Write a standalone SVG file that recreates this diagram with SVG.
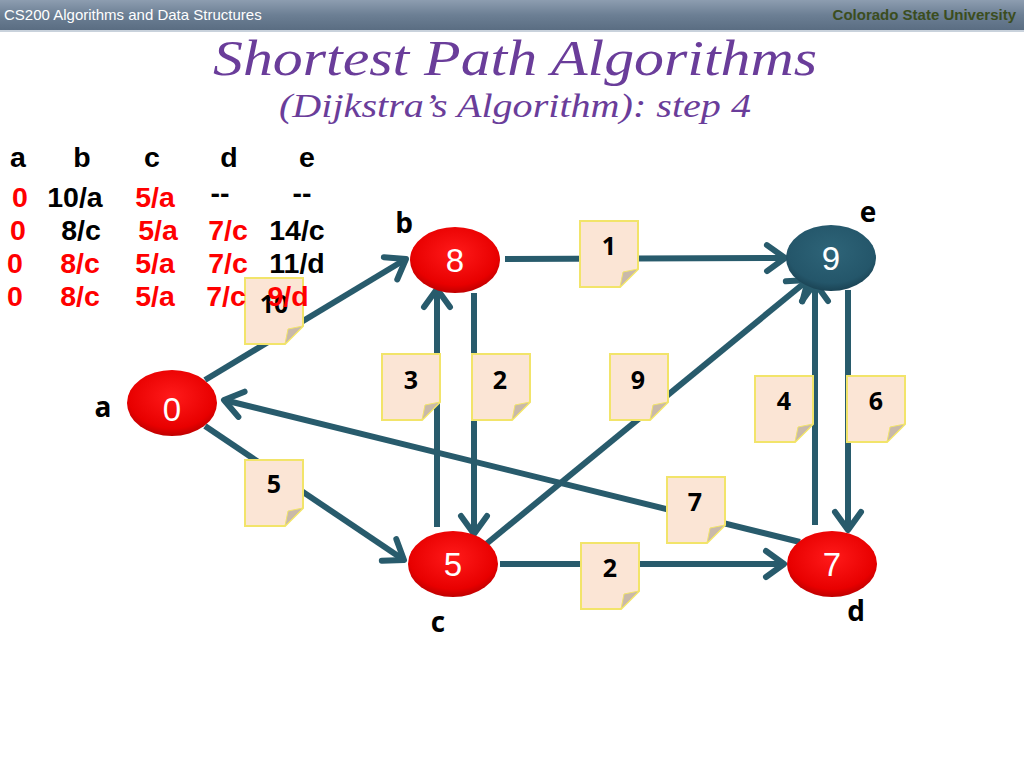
<svg xmlns="http://www.w3.org/2000/svg" xmlns:xlink="http://www.w3.org/1999/xlink" width="1024" height="768" viewBox="0 0 1024 768">
<defs>
<style>
.hdr{font-family:"Liberation Sans",Arial,sans-serif;font-size:15px}
.ttl{font-family:"Liberation Serif","Times New Roman",serif;font-style:italic;fill:#6a3d9a;text-anchor:middle}
.tb{font-family:"Liberation Sans",Arial,sans-serif;font-weight:bold;font-size:28.5px;text-anchor:middle}
.r{fill:#ff0000}.k{fill:#000}
.lbl{font-family:"Open Sans","Liberation Sans",sans-serif;font-weight:bold;font-size:28px;text-anchor:middle;fill:#000}
.nt{font-family:"Liberation Sans",Arial,sans-serif;font-size:33px;fill:#fff;text-anchor:middle}
.wt{font-family:"Open Sans","Liberation Sans",sans-serif;font-weight:bold;font-size:25px;text-anchor:middle;fill:#000}
.e{stroke:#285b6c;stroke-width:6;fill:none;marker-end:url(#ah)}
</style>
<linearGradient id="hg" x1="0" y1="0" x2="0" y2="1">
<stop offset="0" stop-color="#8d9db0"/><stop offset="0.5" stop-color="#6c7f94"/><stop offset="1" stop-color="#5a6d82"/>
</linearGradient>
<radialGradient id="rg" cx="0.5" cy="0.4" r="0.6">
<stop offset="0" stop-color="#ff1a1a"/><stop offset="0.8" stop-color="#e80000"/><stop offset="1" stop-color="#c00000"/>
</radialGradient>
<radialGradient id="tg" cx="0.5" cy="0.4" r="0.6">
<stop offset="0" stop-color="#2e6478"/><stop offset="0.8" stop-color="#24566a"/><stop offset="1" stop-color="#1b4455"/>
</radialGradient>
<marker id="ah" markerUnits="userSpaceOnUse" markerWidth="30" markerHeight="30" refX="22" refY="15" orient="auto" overflow="visible">
<path d="M4,2 L22,15 L4,28" fill="none" stroke="#285b6c" stroke-width="6" stroke-linecap="round" stroke-linejoin="round"/>
</marker>
<g id="note">
<path d="M0,0 H58 V48 L40,66 H0 Z" fill="#fbe5d5" stroke="#f2e46a" stroke-width="2"/>
<path d="M58,48 L40,66 L43,51 Z" fill="#c9b9a9" stroke="#f2e46a" stroke-width="1"/>
</g>
</defs>
<rect width="1024" height="768" fill="#fff"/>
<g id="header">
<rect x="0" y="0" width="1024" height="30" fill="url(#hg)"/>
<rect x="0" y="30" width="1024" height="2" fill="#c9d2dc"/>
<text class="hdr" x="4" y="20" fill="#fff">CS200 Algorithms and Data Structures</text>
<text class="hdr" x="1016" y="20" fill="#3b4d1e" font-weight="bold" text-anchor="end">Colorado State University</text>
</g>
<g id="title">
<text class="ttl" x="515" y="75" font-size="50" textLength="604" lengthAdjust="spacingAndGlyphs">Shortest Path Algorithms</text>
<text class="ttl" x="515" y="117" font-size="33" textLength="472" lengthAdjust="spacingAndGlyphs">(Dijkstra’s Algorithm): step 4</text>
</g>
<g id="connectors">
<line class="e" x1="205" y1="380" x2="406" y2="259"/>
<line class="e" x1="205" y1="426" x2="404" y2="560"/>
<line class="e" x1="505" y1="259" x2="785" y2="258"/>
<line class="e" x1="437" y1="527" x2="437" y2="289"/>
<line class="e" x1="474" y1="293" x2="474" y2="534"/>
<line class="e" x1="485" y1="545" x2="808" y2="280"/>
<line class="e" x1="800" y1="542" x2="224" y2="400"/>
<line class="e" x1="500" y1="564" x2="784" y2="564"/>
<line class="e" x1="815" y1="525" x2="815" y2="283"/>
<line class="e" x1="848" y1="290" x2="848" y2="530"/>
</g>
<g id="node-a"><ellipse cx="172" cy="403" rx="45" ry="33" fill="url(#rg)"/><text class="nt" x="172" y="421" font-size="48">0</text></g>
<g id="node-b"><ellipse cx="455" cy="260" rx="45" ry="33" fill="url(#rg)"/><text class="nt" x="455" y="272">8</text></g>
<g id="node-e"><ellipse cx="831" cy="258" rx="45" ry="33" fill="url(#tg)"/><text class="nt" x="831" y="270">9</text></g>
<g id="node-c"><ellipse cx="453" cy="564" rx="45" ry="33" fill="url(#rg)"/><text class="nt" x="453" y="576">5</text></g>
<g id="node-d"><ellipse cx="832" cy="564" rx="45" ry="33" fill="url(#rg)"/><text class="nt" x="832" y="576">7</text></g>
<g id="labels">
<text class="lbl" x="103" y="417">a</text>
<text class="lbl" x="404" y="233">b</text>
<text class="lbl" x="868" y="222">e</text>
<text class="lbl" x="438" y="632">c</text>
<text class="lbl" x="856" y="621">d</text>
</g>
<g id="weights">
<use xlink:href="#note" x="245" y="278"/>
<text class="wt" x="274" y="313">10</text>
<use xlink:href="#note" x="580" y="221"/><text class="wt" x="609" y="255">1</text>
<use xlink:href="#note" x="382" y="354"/><text class="wt" x="411" y="389">3</text>
<use xlink:href="#note" x="472" y="354"/><text class="wt" x="500" y="389">2</text>
<use xlink:href="#note" x="610" y="354"/><text class="wt" x="638" y="389">9</text>
<use xlink:href="#note" x="755" y="376"/><text class="wt" x="784" y="410">4</text>
<use xlink:href="#note" x="847" y="376"/><text class="wt" x="876" y="410">6</text>
<use xlink:href="#note" x="245" y="460"/><text class="wt" x="274" y="493">5</text>
<use xlink:href="#note" x="667" y="477"/><text class="wt" x="695" y="511">7</text>
<use xlink:href="#note" x="581" y="543"/><text class="wt" x="610" y="577">2</text>
</g>
<g id="table">
<text class="tb k" x="18" y="167">a</text>
<text class="tb k" x="82" y="167">b</text>
<text class="tb k" x="152" y="167">c</text>
<text class="tb k" x="229" y="167">d</text>
<text class="tb k" x="307" y="167">e</text>
<text class="tb r" x="20" y="207">0</text>
<text class="tb k" x="75" y="207">10/a</text>
<text class="tb r" x="155" y="207">5/a</text>
<text class="tb k" x="220" y="203">--</text>
<text class="tb k" x="302" y="203">--</text>
<text class="tb r" x="18" y="240">0</text>
<text class="tb k" x="81" y="240">8/c</text>
<text class="tb r" x="158" y="240">5/a</text>
<text class="tb r" x="228" y="240">7/c</text>
<text class="tb k" x="297" y="240">14/c</text>
<text class="tb r" x="15" y="273">0</text>
<text class="tb r" x="80" y="273">8/c</text>
<text class="tb r" x="155" y="273">5/a</text>
<text class="tb r" x="228" y="273">7/c</text>
<text class="tb k" x="297" y="273">11/d</text>
<text class="tb r" x="15" y="306">0</text>
<text class="tb r" x="80" y="306">8/c</text>
<text class="tb r" x="155" y="306">5/a</text>
<text class="tb r" x="226" y="306">7/c</text>
<text class="tb r" x="288" y="306">9/d</text>
</g>
</svg>
